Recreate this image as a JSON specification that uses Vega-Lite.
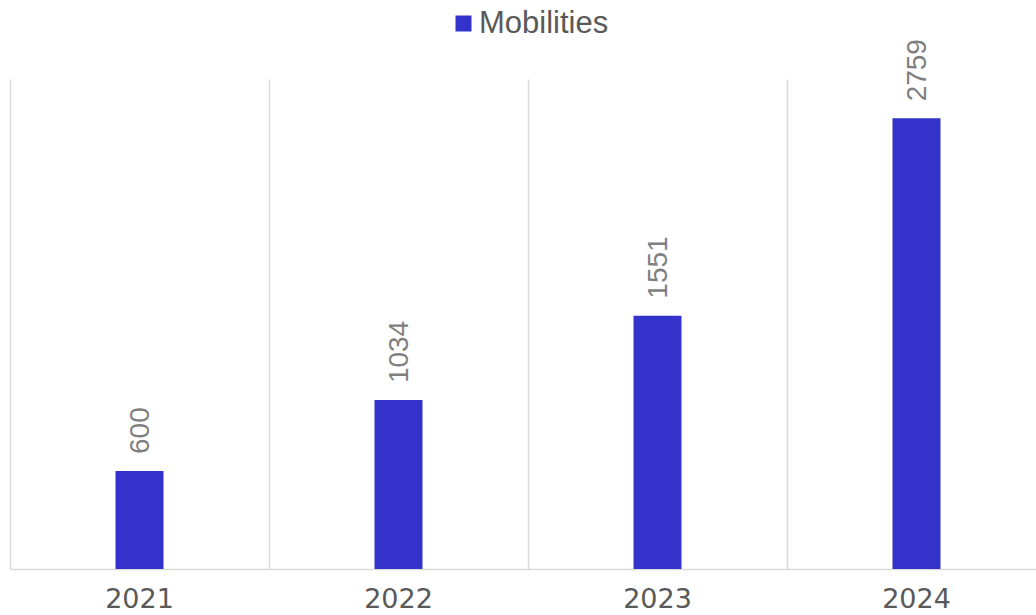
{
  "$schema": "https://vega.github.io/schema/vega-lite/v6.json",
  "width": 1036,
  "height": 490,
  "autosize": {"type": "none"},
  "padding": {"left": 10, "top": 79, "right": 0, "bottom": 46},
  "config": {"view": {"stroke": null}, "font": "Liberation Sans"},
  "data": {
    "values": [
      {"year": "2021", "value": 600, "series": "Mobilities"},
      {"year": "2022", "value": 1034, "series": "Mobilities"},
      {"year": "2023", "value": 1551, "series": "Mobilities"},
      {"year": "2024", "value": 2759, "series": "Mobilities"}
    ]
  },
  "encoding": {
    "x": {
      "field": "year",
      "type": "nominal",
      "scale": {"paddingInner": 0, "paddingOuter": 0},
      "axis": {
        "title": null,
        "labels": false,
        "ticks": false,
        "domain": true,
        "domainColor": "#d9d9d9",
        "domainWidth": 1.5,
        "grid": true,
        "gridColor": "#d9d9d9",
        "gridWidth": 1.5,
        "tickBand": "extent"
      }
    }
  },
  "layer": [
    {
      "mark": {"type": "bar", "size": 48},
      "encoding": {
        "y": {"field": "value", "type": "quantitative", "scale": {"domain": [0, 3000]}, "axis": null},
        "color": {
          "field": "series",
          "type": "nominal",
          "scale": {"range": ["#3333CC"]},
          "legend": {
            "title": null,
            "orient": "none",
            "legendX": 438,
            "legendY": -71,
            "symbolType": "square",
            "symbolSize": 256,
            "symbolStrokeWidth": 0,
            "labelFontSize": 31,
            "labelColor": "#595959",
            "labelOffset": 0,
            "labelFont": "Liberation Sans"
          }
        }
      }
    },
    {
      "mark": {"type": "text", "angle": 270, "align": "left", "baseline": "middle", "dx": 17, "dy": 1, "fontSize": 28, "color": "#7f7f7f"},
      "encoding": {
        "y": {"field": "value", "type": "quantitative"},
        "text": {"field": "value", "type": "quantitative"}
      }
    },
    {
      "mark": {"type": "text", "font": "DejaVu Sans", "fontSize": 27, "color": "#595959", "baseline": "alphabetic", "dy": 39},
      "encoding": {
        "y": {"datum": 0, "type": "quantitative"},
        "text": {"field": "year", "type": "nominal"}
      }
    }
  ]
}
